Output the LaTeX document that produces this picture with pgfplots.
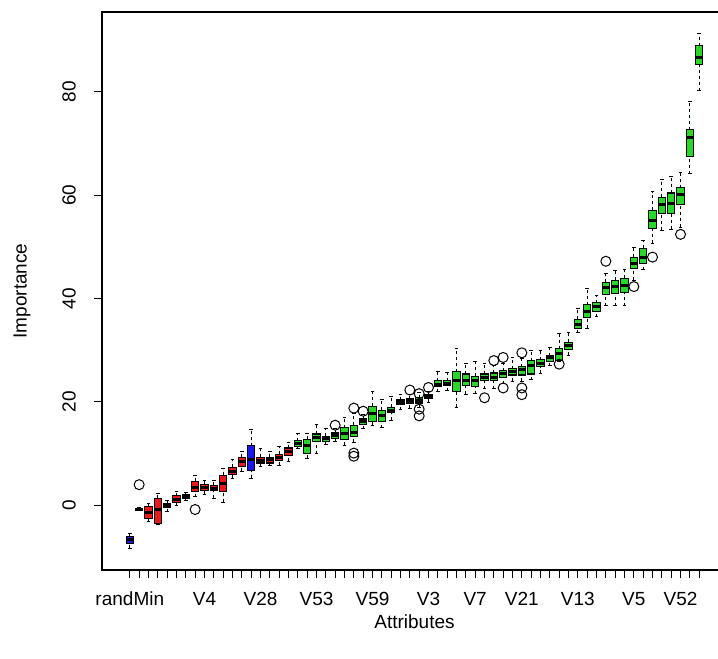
\documentclass[border=0pt]{standalone}
\usepackage{pgfplots}
\pgfplotsset{compat=1.18}
\usepgfplotslibrary{statistics}
\usepackage{fontspec}
\setmainfont{Liberation Sans}
\definecolor{cr}{RGB}{235,25,25}
\definecolor{cg}{RGB}{40,215,40}
\definecolor{cb}{RGB}{25,25,235}
\pgfplotsset{
  boxplot/draw direction=y,
  boxplot/draw/lower whisker/.code={%
    \draw[dash pattern=on 3pt off 3pt, line width=1pt]
      (boxplot cs:\pgfplotsboxplotvalue{lower whisker}) -- (boxplot cs:\pgfplotsboxplotvalue{lower quartile});
    \draw[solid, line width=1pt]
      (boxplot whisker cs:\pgfplotsboxplotvalue{lower whisker},0) -- (boxplot whisker cs:\pgfplotsboxplotvalue{lower whisker},1);
  },
  boxplot/draw/upper whisker/.code={%
    \draw[dash pattern=on 3pt off 3pt, line width=1pt]
      (boxplot cs:\pgfplotsboxplotvalue{upper quartile}) -- (boxplot cs:\pgfplotsboxplotvalue{upper whisker});
    \draw[solid, line width=1pt]
      (boxplot whisker cs:\pgfplotsboxplotvalue{upper whisker},0) -- (boxplot whisker cs:\pgfplotsboxplotvalue{upper whisker},1);
  },
  bx/.style={draw=black, line width=1.1pt, solid,
    boxplot/draw direction=y,
    boxplot/box extend=0.8, boxplot/whisker extend=0.4,
    boxplot/every median/.style={line width=3pt}},
}
\begin{document}
\begin{tikzpicture}
\useasboundingbox (-102pt,-89pt) rectangle (616pt,570pt);
\begin{axis}[
  at={(0pt,0pt)}, anchor=south west,
  scale only axis, width=625pt, height=558pt,
  xmin=-2.98, xmax=63.98, ymin=-12.5, ymax=95.4,
  axis line style={line width=1.2pt},
  tick style={line width=1pt, black},
  tick align=outside, major tick length=8pt,
  xtick pos=left, ytick pos=left,
  xtick={0,...,61}, xticklabels={},
  extra x ticks={0,8,14,20,26,32,37,42,48,54,59},
  extra x tick labels={randMin,V4,V28,V53,V59,V3,V7,V21,V13,V5,V52},
  extra x tick style={tick style={line width=1pt, black}},
  ytick={0,20,40,60,80},
  tick label style={font=\fontsize{19}{22}\selectfont},
  /pgf/number format/assume math mode=true,
  xticklabel style={anchor=north, inner sep=0pt},
  yticklabel style={rotate=90, anchor=south, inner sep=0pt},
  xticklabel shift=14pt, yticklabel shift=18pt,
  xlabel={Attributes}, ylabel={Importance},
  every axis x label/.style={at={(axis description cs:0.5,0)}, yshift=-52pt, anchor=center, font=\fontsize{19}{22}\selectfont},
  every axis y label/.style={at={(axis description cs:0,0.5)}, xshift=-80pt, rotate=90, anchor=center, font=\fontsize{19}{22}\selectfont},
  clip=false,
]
\addplot[bx, fill=cb, boxplot prepared={draw position=0, lower whisker=-8.3, lower quartile=-7.4, median=-6.6, upper quartile=-6.0, upper whisker=-5.4}] coordinates {};
\addplot[bx, fill=cb, boxplot prepared={draw position=1, lower whisker=-1.0, lower quartile=-0.9, median=-0.8, upper quartile=-0.7, upper whisker=-0.5}] coordinates {};
\addplot[bx, fill=cr, boxplot prepared={draw position=2, lower whisker=-3.1, lower quartile=-2.5, median=-1.4, upper quartile=-0.2, upper whisker=0.4}] coordinates {};
\addplot[bx, fill=cr, boxplot prepared={draw position=3, lower whisker=-3.7, lower quartile=-3.5, median=-0.8, upper quartile=1.4, upper whisker=2.3}] coordinates {};
\addplot[bx, fill=cr, boxplot prepared={draw position=4, lower whisker=-1.2, lower quartile=-0.5, median=-0.1, upper quartile=0.3, upper whisker=1.0}] coordinates {};
\addplot[bx, fill=cr, boxplot prepared={draw position=5, lower whisker=0.0, lower quartile=0.6, median=1.2, upper quartile=1.9, upper whisker=2.7}] coordinates {};
\addplot[bx, fill=cr, boxplot prepared={draw position=6, lower whisker=0.9, lower quartile=1.3, median=1.7, upper quartile=2.1, upper whisker=2.5}] coordinates {};
\addplot[bx, fill=cr, boxplot prepared={draw position=7, lower whisker=1.7, lower quartile=2.7, median=3.5, upper quartile=4.7, upper whisker=5.8}] coordinates {};
\addplot[bx, fill=cr, boxplot prepared={draw position=8, lower whisker=2.1, lower quartile=2.8, median=3.5, upper quartile=4.1, upper whisker=4.9}] coordinates {};
\addplot[bx, fill=cr, boxplot prepared={draw position=9, lower whisker=1.4, lower quartile=2.8, median=3.3, upper quartile=3.9, upper whisker=4.9}] coordinates {};
\addplot[bx, fill=cr, boxplot prepared={draw position=10, lower whisker=0.6, lower quartile=2.7, median=4.3, upper quartile=5.8, upper whisker=7.2}] coordinates {};
\addplot[bx, fill=cr, boxplot prepared={draw position=11, lower whisker=5.2, lower quartile=6.0, median=6.6, upper quartile=7.4, upper whisker=8.9}] coordinates {};
\addplot[bx, fill=cr, boxplot prepared={draw position=12, lower whisker=6.6, lower quartile=7.6, median=8.5, upper quartile=9.3, upper whisker=10.5}] coordinates {};
\addplot[bx, fill=cb, boxplot prepared={draw position=13, lower whisker=5.2, lower quartile=6.8, median=8.9, upper quartile=11.5, upper whisker=14.7}] coordinates {};
\addplot[bx, fill=cr, boxplot prepared={draw position=14, lower whisker=7.6, lower quartile=8.2, median=8.7, upper quartile=9.3, upper whisker=10.9}] coordinates {};
\addplot[bx, fill=cr, boxplot prepared={draw position=15, lower whisker=7.8, lower quartile=8.2, median=8.8, upper quartile=9.3, upper whisker=10.5}] coordinates {};
\addplot[bx, fill=cr, boxplot prepared={draw position=16, lower whisker=7.8, lower quartile=8.7, median=9.3, upper quartile=9.9, upper whisker=11.3}] coordinates {};
\addplot[bx, fill=cr, boxplot prepared={draw position=17, lower whisker=8.5, lower quartile=9.7, median=10.4, upper quartile=11.1, upper whisker=12.2}] coordinates {};
\addplot[bx, fill=cg, boxplot prepared={draw position=18, lower whisker=10.9, lower quartile=11.4, median=11.9, upper quartile=12.5, upper whisker=13.8}] coordinates {};
\addplot[bx, fill=cg, boxplot prepared={draw position=19, lower whisker=9.1, lower quartile=10.1, median=11.6, upper quartile=12.8, upper whisker=13.8}] coordinates {};
\addplot[bx, fill=cg, boxplot prepared={draw position=20, lower whisker=10.0, lower quartile=12.4, median=13.1, upper quartile=13.8, upper whisker=15.7}] coordinates {};
\addplot[bx, fill=cg, boxplot prepared={draw position=21, lower whisker=11.8, lower quartile=12.4, median=12.9, upper quartile=13.4, upper whisker=14.9}] coordinates {};
\addplot[bx, fill=cg, boxplot prepared={draw position=22, lower whisker=12.4, lower quartile=13.0, median=13.6, upper quartile=14.0, upper whisker=14.9}] coordinates {};
\addplot[bx, fill=cg, boxplot prepared={draw position=23, lower whisker=11.6, lower quartile=12.8, median=13.8, upper quartile=15.0, upper whisker=16.9}] coordinates {};
\addplot[bx, fill=cg, boxplot prepared={draw position=24, lower whisker=12.2, lower quartile=13.4, median=14.0, upper quartile=15.5, upper whisker=17.7}] coordinates {};
\addplot[bx, fill=cg, boxplot prepared={draw position=25, lower whisker=14.8, lower quartile=15.7, median=16.2, upper quartile=16.7, upper whisker=17.5}] coordinates {};
\addplot[bx, fill=cg, boxplot prepared={draw position=26, lower whisker=15.5, lower quartile=16.3, median=17.7, upper quartile=19.2, upper whisker=22.1}] coordinates {};
\addplot[bx, fill=cg, boxplot prepared={draw position=27, lower whisker=15.0, lower quartile=16.3, median=17.3, upper quartile=18.4, upper whisker=20.5}] coordinates {};
\addplot[bx, fill=cg, boxplot prepared={draw position=28, lower whisker=16.5, lower quartile=17.9, median=18.4, upper quartile=19.0, upper whisker=21.0}] coordinates {};
\addplot[bx, fill=cg, boxplot prepared={draw position=29, lower whisker=18.5, lower quartile=19.6, median=20.0, upper quartile=20.4, upper whisker=21.5}] coordinates {};
\addplot[bx, fill=cg, boxplot prepared={draw position=30, lower whisker=18.8, lower quartile=19.8, median=20.2, upper quartile=20.6, upper whisker=21.5}] coordinates {};
\addplot[bx, fill=cg, boxplot prepared={draw position=31, lower whisker=19.0, lower quartile=19.8, median=20.3, upper quartile=20.8, upper whisker=21.8}] coordinates {};
\addplot[bx, fill=cg, boxplot prepared={draw position=32, lower whisker=19.9, lower quartile=20.6, median=21.0, upper quartile=21.5, upper whisker=22.0}] coordinates {};
\addplot[bx, fill=cg, boxplot prepared={draw position=33, lower whisker=22.0, lower quartile=22.9, median=23.4, upper quartile=24.1, upper whisker=25.8}] coordinates {};
\addplot[bx, fill=cg, boxplot prepared={draw position=34, lower whisker=22.2, lower quartile=23.1, median=23.5, upper quartile=24.1, upper whisker=25.6}] coordinates {};
\addplot[bx, fill=cg, boxplot prepared={draw position=35, lower whisker=19.0, lower quartile=22.1, median=24.1, upper quartile=25.8, upper whisker=30.3}] coordinates {};
\addplot[bx, fill=cg, boxplot prepared={draw position=36, lower whisker=21.5, lower quartile=23.1, median=24.2, upper quartile=25.4, upper whisker=27.4}] coordinates {};
\addplot[bx, fill=cg, boxplot prepared={draw position=37, lower whisker=21.6, lower quartile=22.9, median=24.1, upper quartile=25.0, upper whisker=27.8}] coordinates {};
\addplot[bx, fill=cg, boxplot prepared={draw position=38, lower whisker=22.5, lower quartile=24.1, median=24.8, upper quartile=25.4, upper whisker=27.4}] coordinates {};
\addplot[bx, fill=cg, boxplot prepared={draw position=39, lower whisker=22.5, lower quartile=24.2, median=24.8, upper quartile=25.6, upper whisker=27.0}] coordinates {};
\addplot[bx, fill=cg, boxplot prepared={draw position=40, lower whisker=23.5, lower quartile=24.8, median=25.4, upper quartile=26.0, upper whisker=27.4}] coordinates {};
\addplot[bx, fill=cg, boxplot prepared={draw position=41, lower whisker=24.0, lower quartile=25.2, median=25.8, upper quartile=26.4, upper whisker=28.6}] coordinates {};
\addplot[bx, fill=cg, boxplot prepared={draw position=42, lower whisker=24.0, lower quartile=25.2, median=26.2, upper quartile=26.8, upper whisker=28.4}] coordinates {};
\addplot[bx, fill=cg, boxplot prepared={draw position=43, lower whisker=24.3, lower quartile=25.4, median=27.0, upper quartile=28.0, upper whisker=29.9}] coordinates {};
\addplot[bx, fill=cg, boxplot prepared={draw position=44, lower whisker=25.5, lower quartile=26.8, median=27.4, upper quartile=28.2, upper whisker=29.9}] coordinates {};
\addplot[bx, fill=cg, boxplot prepared={draw position=45, lower whisker=27.0, lower quartile=27.8, median=28.5, upper quartile=28.9, upper whisker=30.5}] coordinates {};
\addplot[bx, fill=cg, boxplot prepared={draw position=46, lower whisker=27.8, lower quartile=28.0, median=29.3, upper quartile=30.3, upper whisker=33.2}] coordinates {};
\addplot[bx, fill=cg, boxplot prepared={draw position=47, lower whisker=29.0, lower quartile=30.1, median=30.9, upper quartile=31.5, upper whisker=33.4}] coordinates {};
\addplot[bx, fill=cg, boxplot prepared={draw position=48, lower whisker=33.4, lower quartile=34.2, median=35.0, upper quartile=36.0, upper whisker=38.0}] coordinates {};
\addplot[bx, fill=cg, boxplot prepared={draw position=49, lower whisker=34.2, lower quartile=36.3, median=37.5, upper quartile=38.8, upper whisker=41.9}] coordinates {};
\addplot[bx, fill=cg, boxplot prepared={draw position=50, lower whisker=36.5, lower quartile=37.5, median=38.4, upper quartile=39.2, upper whisker=40.6}] coordinates {};
\addplot[bx, fill=cg, boxplot prepared={draw position=51, lower whisker=38.6, lower quartile=40.8, median=42.1, upper quartile=43.1, upper whisker=44.9}] coordinates {};
\addplot[bx, fill=cg, boxplot prepared={draw position=52, lower whisker=38.6, lower quartile=41.0, median=42.3, upper quartile=43.5, upper whisker=45.4}] coordinates {};
\addplot[bx, fill=cg, boxplot prepared={draw position=53, lower whisker=38.6, lower quartile=41.2, median=42.5, upper quartile=43.9, upper whisker=45.6}] coordinates {};
\addplot[bx, fill=cg, boxplot prepared={draw position=54, lower whisker=43.5, lower quartile=45.8, median=46.8, upper quartile=48.0, upper whisker=49.9}] coordinates {};
\addplot[bx, fill=cg, boxplot prepared={draw position=55, lower whisker=45.6, lower quartile=46.8, median=48.0, upper quartile=49.7, upper whisker=51.3}] coordinates {};
\addplot[bx, fill=cg, boxplot prepared={draw position=56, lower whisker=50.7, lower quartile=53.6, median=55.1, upper quartile=57.1, upper whisker=60.6}] coordinates {};
\addplot[bx, fill=cg, boxplot prepared={draw position=57, lower whisker=53.2, lower quartile=56.5, median=58.1, upper quartile=59.6, upper whisker=63.0}] coordinates {};
\addplot[bx, fill=cg, boxplot prepared={draw position=58, lower whisker=53.4, lower quartile=56.5, median=58.4, upper quartile=60.4, upper whisker=63.5}] coordinates {};
\addplot[bx, fill=cg, boxplot prepared={draw position=59, lower whisker=53.8, lower quartile=58.1, median=60.2, upper quartile=61.4, upper whisker=64.3}] coordinates {};
\addplot[bx, fill=cg, boxplot prepared={draw position=60, lower whisker=64.1, lower quartile=67.4, median=71.1, upper quartile=72.6, upper whisker=78.1}] coordinates {};
\addplot[bx, fill=cg, boxplot prepared={draw position=61, lower whisker=80.2, lower quartile=85.2, median=86.6, upper quartile=88.9, upper whisker=91.3}] coordinates {};
% outliers
\addplot[only marks, mark=o, mark size=5pt, black, mark options={line width=1pt, solid}] coordinates {
(1,4.0) (7,-0.8) (22,15.5) (24,10.1) (24,9.5) (24,18.8) (25,18.2)
(30,22.3) (31,21.6) (31,18.6) (31,17.3) (32,22.8)
(38,20.8) (39,28.0) (40,28.6) (40,22.7) (42,29.5) (42,22.7) (42,21.4)
(46,27.3) (51,47.2) (54,42.3) (56,48.0) (59,52.4)
};
\end{axis}
\end{tikzpicture}
\end{document}
